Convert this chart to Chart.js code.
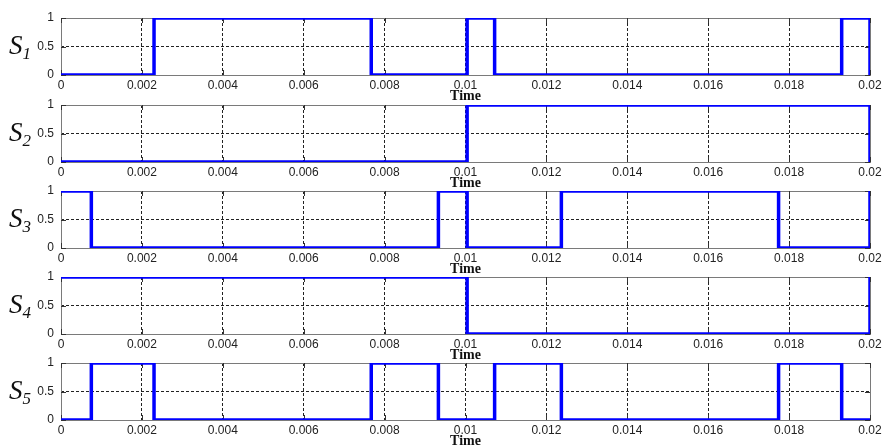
<!DOCTYPE html>
<html>
<head>
<meta charset="utf-8">
<script src="https://cdn.jsdelivr.net/npm/chart.js@4"></script>
<style>
  html, body { margin: 0; padding: 0; background: #fff; }
  #wrap { position: relative; width: 887px; height: 446px; overflow: hidden; background: #fff; }
  #wrap canvas { position: absolute; left: 0; }
  .ylab { position: absolute; left: 9px; font-family: 'Liberation Serif', 'DejaVu Serif', serif; font-style: italic; font-size: 27px; line-height: 27px; color: #111; }
  .ylab sub { font-size: 17px; vertical-align: -5px; line-height: 0; }
</style>
</head>
<body>
<div id="wrap"></div>
<script>
// switching instants (s) and the level the signal takes at each instant
const s1Times  = [0, 0.0023, 0.00767, 0.01004, 0.01072, 0.0193, 0.02];
const s1Levels = [0, 1, 0, 1, 0, 1, 0];
const s2Times  = [0, 0.01004, 0.02];
const s2Levels = [0, 1, 0];
const s3Times  = [0, 0.00075, 0.00933, 0.01004, 0.01237, 0.01774, 0.02];
const s3Levels = [1, 0, 1, 0, 1, 0, 1];
const s4Times  = [0, 0.01004, 0.02];
const s4Levels = [1, 0, 1];
const s5Times  = [0, 0.00075, 0.0023, 0.00767, 0.00933, 0.01072, 0.01237, 0.01774, 0.0193, 0.02];
const s5Levels = [0, 1, 0, 1, 0, 1, 0, 1, 0, 0];

const signalNames = ['1', '2', '3', '4', '5'];
const signalTimes = [s1Times, s2Times, s3Times, s4Times, s5Times];
const signalLevels = [s1Levels, s2Levels, s3Levels, s4Levels, s5Levels];

const xMin = 0, xMax = 0.02, xStep = 0.002;
const yTicks = [0, 0.5, 1];
const xTitle = 'Time';

const panelTops = [18, 105, 191, 277, 363];
const plotH = 57;
const padTop = 8;
const xAxisH = 30;

// MATLAB style box + inward tick marks
const boxPlugin = {
  id: 'box',
  beforeDatasetsDraw(chart) {
    const { ctx, chartArea: a, scales } = chart;
    ctx.save();
    ctx.strokeStyle = '#7a7a7a';
    ctx.lineWidth = 1;
    ctx.strokeRect(Math.round(a.left) + 0.5, Math.round(a.top) + 0.5, Math.round(a.right - a.left), Math.round(a.bottom - a.top));
    ctx.strokeStyle = '#333';
    ctx.beginPath();
    scales.x.ticks.forEach(t => {
      const px = Math.round(scales.x.getPixelForValue(t.value)) + 0.5;
      ctx.moveTo(px, a.bottom); ctx.lineTo(px, a.bottom - 5);
      ctx.moveTo(px, a.top); ctx.lineTo(px, a.top + 5);
    });
    scales.y.ticks.forEach(t => {
      const py = Math.round(scales.y.getPixelForValue(t.value)) + 0.5;
      ctx.moveTo(a.left, py); ctx.lineTo(a.left + 5, py);
      ctx.moveTo(a.right, py); ctx.lineTo(a.right - 5, py);
    });
    ctx.stroke();
    ctx.restore();
  }
};

const wrap = document.getElementById('wrap');
const edgeless = c => (c.index === 0 || c.index === c.scale.ticks.length - 1) ? 'rgba(0,0,0,0)' : '#222';
const noPad = ax => { ax.paddingTop = 0; ax.paddingBottom = 0; ax.paddingLeft = 0; ax.paddingRight = 0; };

signalNames.forEach((name, i) => {
  const cv = document.createElement('canvas');
  cv.width = 887;
  cv.height = padTop + plotH + xAxisH;
  cv.style.top = (panelTops[i] - padTop) + 'px';
  wrap.appendChild(cv);

  const lab = document.createElement('div');
  lab.className = 'ylab';
  lab.style.top = (panelTops[i] + 14) + 'px';
  lab.innerHTML = 'S<sub>' + name + '</sub>';
  wrap.appendChild(lab);

  const pts = signalTimes[i].map((t, k) => ({ x: t, y: signalLevels[i][k] }));

  new Chart(cv, {
    type: 'line',
    data: { datasets: [{ data: pts, stepped: true, borderColor: '#0000ff', borderWidth: 3.5, pointRadius: 0, fill: false }] },
    plugins: [boxPlugin],
    options: {
      responsive: false, animation: false, devicePixelRatio: 1,
      layout: { padding: { top: padTop, right: 17, left: 0, bottom: 0 } },
      plugins: { legend: { display: false }, tooltip: { enabled: false } },
      scales: {
        x: {
          type: 'linear', min: xMin, max: xMax,
          afterFit: ax => { ax.height = xAxisH; noPad(ax); },
          ticks: {
            stepSize: xStep, padding: 3, color: '#222', maxRotation: 0,
            font: { family: "'Liberation Sans', Arial, sans-serif", size: 12 },
            callback: v => String(Number(v.toFixed(3)))
          },
          grid: { color: edgeless, lineWidth: 1, drawTicks: false },
          border: { display: false, dash: [3, 2] },
          title: { display: true, text: xTitle, color: '#111', padding: { top: 0, bottom: 0 },
                   font: { family: "'Liberation Serif', 'Times New Roman', serif", size: 14, weight: 'bold' } }
        },
        y: {
          min: 0, max: 1,
          afterFit: ax => { ax.width = 61; noPad(ax); },
          afterBuildTicks: ax => { ax.ticks = yTicks.map(v => ({ value: v })); },
          ticks: {
            padding: 7, color: '#222',
            font: { family: "'Liberation Sans', Arial, sans-serif", size: 12 },
            callback: v => String(v)
          },
          grid: { color: edgeless, lineWidth: 1, drawTicks: false },
          border: { display: false, dash: [3, 2] }
        }
      }
    }
  });
});
</script>
</body>
</html>
